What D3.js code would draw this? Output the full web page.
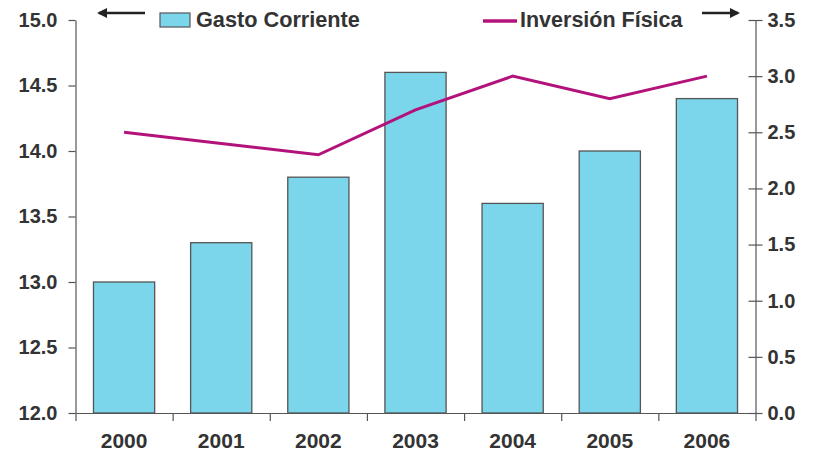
<!DOCTYPE html>
<html>
<head>
<meta charset="utf-8">
<script src="https://cdn.jsdelivr.net/npm/d3@7"></script>
<style>
  body { margin: 0; background: #fff; }
  svg text { font-family: "Liberation Sans", Arial, sans-serif; font-weight: bold; fill: #333; }
</style>
</head>
<body>
<svg width="815" height="455"></svg>
<script>
// values
const years = ["2000", "2001", "2002", "2003", "2004", "2005", "2006"];
const gastoCorriente = [13.0, 13.3, 13.8, 14.6, 13.6, 14.0, 14.4];
const inversionFisica = [2.5, 2.4, 2.3, 2.7, 3.0, 2.8, 3.0];
const leftTicks = [12.0, 12.5, 13.0, 13.5, 14.0, 14.5, 15.0];
const rightTicks = [0.0, 0.5, 1.0, 1.5, 2.0, 2.5, 3.0, 3.5];

const svg = d3.select("svg");
let plotLeft = 75.5, plotRight = 755.5, plotTop = 20, plotBottom = 413;
let axisColor = "#555";

let x = d3.scaleBand().domain(years).range([plotLeft, plotRight])
    .paddingInner(0.37).paddingOuter(0.185);
let edge = d3.scaleLinear().domain([0, years.length]).range([plotLeft, plotRight]);
let yL = d3.scaleLinear().domain([12, 15]).range([plotBottom, plotTop]);
let yR = d3.scaleLinear().domain([0, 3.5]).range([plotBottom, plotTop]);

// bars
svg.append('g').selectAll('rect')
    .data(years)
    .join('rect')
    .attr('x', (d) => x(d))
    .attr('y', (d, i) => yL(gastoCorriente[i]))
    .attr('width', x.bandwidth())
    .attr('height', (d, i) => yL(12) - yL(gastoCorriente[i]))
    .attr('fill', "#7bd6eb")
    .attr('stroke', "#555")
    .attr('stroke-width', 1.3);

// line
let line = d3.line()
    .x((d, i) => x(years[i]) + x.bandwidth() / 2)
    .y((d) => yR(d));
svg.append('path')
    .datum(inversionFisica)
    .attr('d', line)
    .attr('fill', "none")
    .attr('stroke', "#b3127a")
    .attr('stroke-width', 3);

// left axis
svg.append('g')
    .attr('transform', `translate(${plotLeft},0)`)
    .call(d3.axisLeft(yL).tickValues(leftTicks).tickFormat(d3.format(".1f"))
          .tickSize(7).tickSizeOuter(0).tickPadding(11));
// right axis, ticks crossing the line
let gR = svg.append('g')
    .attr('transform', `translate(${plotRight},0)`)
    .call(d3.axisRight(yR).tickValues(rightTicks).tickFormat(d3.format(".1f"))
          .tickSize(7).tickSizeOuter(0).tickPadding(5));
gR.selectAll('.tick line').attr('x1', -7);
// bottom axis: ticks at category edges, labels at centres
svg.append('g')
    .attr('transform', `translate(0,${plotBottom})`)
    .call(d3.axisBottom(edge).ticks(years.length).tickFormat("").tickSize(8).tickSizeOuter(0));
let gX = svg.append('g')
    .attr('transform', `translate(0,${plotBottom})`)
    .call(d3.axisBottom(x).tickSize(0).tickPadding(20))
    .call((g) => g.select('.domain').remove());

svg.selectAll('.domain, .tick line').attr('stroke', axisColor).attr('stroke-width', 1.2);
svg.selectAll('.tick text').attr('font-size', 20).style('fill', "#333")
    .style('font-family', '"Liberation Sans", Arial, sans-serif').style('font-weight', "bold");
gX.selectAll('.tick text').attr('font-size', 21);

// legend
let legend = svg.append('g');
legend.append('rect')
    .attr('x', 160).attr('y', 13).attr('width', 30).attr('height', 14)
    .attr('fill', "#7bd6eb").attr('stroke', "#555").attr('stroke-width', 1.2);
legend.append('text')
    .attr('x', 196).attr('y', 27).attr('font-size', 21.7)
    .text("Gasto Corriente");
legend.append('line')
    .attr('x1', 483).attr('x2', 517).attr('y1', 21).attr('y2', 21)
    .attr('stroke', "#b3127a").attr('stroke-width', 3.5);
legend.append('text')
    .attr('x', 520).attr('y', 27).attr('font-size', 21.5)
    .text("Inversión Física");

// arrows pointing to each axis
svg.append('defs').append('marker')
    .attr('id', "head")
    .attr('viewBox', "0 0 10 10")
    .attr('refX', 8).attr('refY', 5)
    .attr('markerWidth', 4).attr('markerHeight', 4)
    .attr('orient', "auto")
    .append('path')
    .attr('d', "M0,0 L10,5 L0,10 z")
    .attr('fill', "#222");
svg.append('line')
    .attr('x1', 145).attr('x2', 99).attr('y1', 13).attr('y2', 13)
    .attr('stroke', "#222").attr('stroke-width', 2.5)
    .attr('marker-end', "url(#head)");
svg.append('line')
    .attr('x1', 702).attr('x2', 738).attr('y1', 13).attr('y2', 13)
    .attr('stroke', "#222").attr('stroke-width', 2.5)
    .attr('marker-end', "url(#head)");
</script>
</body>
</html>
